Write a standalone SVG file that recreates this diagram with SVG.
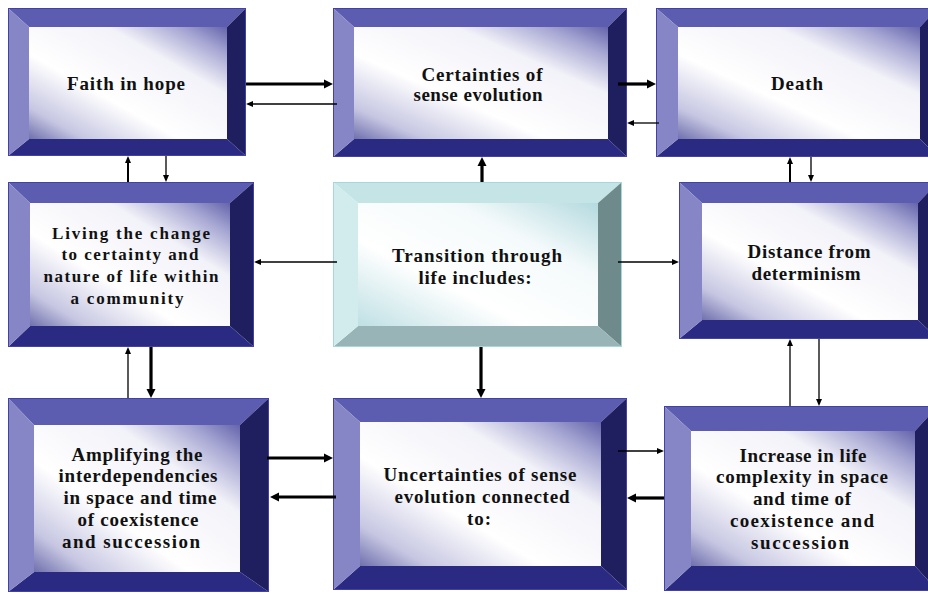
<svg xmlns="http://www.w3.org/2000/svg" width="928" height="594" viewBox="0 0 928 594">
<defs>
<linearGradient id="gp" x1="1" y1="0" x2="0" y2="1">
<stop offset="0" stop-color="#6464ac"/>
<stop offset="0.12" stop-color="#a4a4d2"/>
<stop offset="0.3" stop-color="#f2f2f9"/>
<stop offset="0.62" stop-color="#ffffff"/>
<stop offset="0.86" stop-color="#c6c6e2"/>
<stop offset="1" stop-color="#7070ae"/>
</linearGradient>
<linearGradient id="gt" x1="1" y1="0" x2="0" y2="1">
<stop offset="0" stop-color="#b4dadf"/>
<stop offset="0.3" stop-color="#f4fafb"/>
<stop offset="0.65" stop-color="#ffffff"/>
<stop offset="1" stop-color="#bfe0e4"/>
</linearGradient>
<marker id="hk" markerUnits="userSpaceOnUse" markerWidth="10" markerHeight="10" viewBox="0 0 10 10" refX="0" refY="5" orient="auto" overflow="visible">
<path d="M0,0.5 L9,5 L0,9.5 z" fill="#000"/>
</marker>
<marker id="hn" markerUnits="userSpaceOnUse" markerWidth="8" markerHeight="8" viewBox="0 0 8 8" refX="0" refY="4" orient="auto" overflow="visible">
<path d="M0,1 L7,4 L0,7 z" fill="#000"/>
</marker>
</defs>
<style>
.t{fill:#5c5cb0}.l{fill:#8686c6}.r{fill:#1f1f60}.b{fill:#2a2a82}
.tt{fill:#c4e4e6}.tl{fill:#d2ecee}.tr{fill:#6f8a8a}.tb{fill:#98b4b6}
.ob{fill:none;stroke:#4242a6;stroke-width:1}
.obt{fill:none;stroke:#a8d6da;stroke-width:1}
.in{fill:url(#gp)}.int{fill:url(#gt)}
text{font-family:"Liberation Serif","Times New Roman",serif;font-weight:bold;font-size:19px;fill:#111;text-anchor:middle}
text.s{font-size:17px}
.c line{stroke:#000;fill:none}
.k{stroke-width:3.2;marker-end:url(#hk)}
.n{stroke-width:1.3;marker-end:url(#hn)}
.m{stroke-width:2;marker-end:url(#hn)}
</style>

<g id="faith">
<polygon class="t" points="8,8 246,8 227,27 29,27"/>
<polygon class="r" points="246,8 246,156 227,139 227,27"/>
<polygon class="b" points="8,156 246,156 227,139 29,139"/>
<polygon class="l" points="8,8 29,27 29,139 8,156"/>
<rect class="in" x="29" y="27" width="198" height="112"/>
<rect class="ob" x="8.5" y="8.5" width="237" height="147"/>
<text x="126" y="90" textLength="118" lengthAdjust="spacing">Faith in hope</text>
</g>

<g id="certainties">
<polygon class="t" points="333,8 627,8 608,27 354,27"/>
<polygon class="r" points="627,8 627,157 608,139 608,27"/>
<polygon class="b" points="333,157 627,157 608,139 354,139"/>
<polygon class="l" points="333,8 354,27 354,139 333,157"/>
<rect class="in" x="354" y="27" width="254" height="112"/>
<rect class="ob" x="333.5" y="8.5" width="293" height="148"/>
<text x="482" y="81" textLength="121" lengthAdjust="spacing">Certainties of</text>
<text x="478" y="101" textLength="129" lengthAdjust="spacing">sense evolution</text>
</g>

<g id="death">
<polygon class="t" points="656,8 938,8 920,27 678,27"/>
<polygon class="r" points="938,8 938,157 920,139 920,27"/>
<polygon class="b" points="656,157 938,157 920,139 678,139"/>
<polygon class="l" points="656,8 678,27 678,139 656,157"/>
<rect class="in" x="678" y="27" width="242" height="112"/>
<rect class="ob" x="656.5" y="8.5" width="281" height="148"/>
<text x="797" y="90" textLength="52" lengthAdjust="spacing">Death</text>
</g>

<g id="living">
<polygon class="t" points="8,182 254,182 230,203 30,203"/>
<polygon class="r" points="254,182 254,347 230,326 230,203"/>
<polygon class="b" points="8,347 254,347 230,326 30,326"/>
<polygon class="l" points="8,182 30,203 30,326 8,347"/>
<rect class="in" x="30" y="203" width="200" height="123"/>
<rect class="ob" x="8.5" y="182.5" width="245" height="164"/>
<text class="s" x="131" y="239" textLength="158" lengthAdjust="spacing">Living the change</text>
<text class="s" x="130" y="260" textLength="137" lengthAdjust="spacing">to certainty and</text>
<text class="s" x="131" y="282" textLength="175" lengthAdjust="spacing">nature of life within</text>
<text class="s" x="127" y="304" textLength="113" lengthAdjust="spacing">a community</text>
</g>

<g id="transition">
<polygon class="tt" points="333,182 622,182 598,203 358,203"/>
<polygon class="tr" points="622,182 622,347 598,326 598,203"/>
<polygon class="tb" points="333,347 622,347 598,326 358,326"/>
<polygon class="tl" points="333,182 358,203 358,326 333,347"/>
<rect class="int" x="358" y="203" width="240" height="123"/>
<rect class="obt" x="333.5" y="182.5" width="288" height="164"/>
<text x="477" y="262" textLength="170" lengthAdjust="spacing">Transition through</text>
<text x="475" y="284" textLength="113" lengthAdjust="spacing">life includes:</text>
</g>

<g id="distance">
<polygon class="t" points="679,182 938,182 918,203 702,203"/>
<polygon class="r" points="938,182 938,339 918,320 918,203"/>
<polygon class="b" points="679,339 938,339 918,320 702,320"/>
<polygon class="l" points="679,182 702,203 702,320 679,339"/>
<rect class="in" x="702" y="203" width="216" height="117"/>
<rect class="ob" x="679.5" y="182.5" width="258" height="156"/>
<text x="809" y="258" textLength="123" lengthAdjust="spacing">Distance from</text>
<text x="806" y="280" textLength="109" lengthAdjust="spacing">determinism</text>
</g>

<g id="amplifying">
<polygon class="t" points="8,398 269,398 240,425 34,425"/>
<polygon class="r" points="269,398 269,592 240,572 240,425"/>
<polygon class="b" points="8,592 269,592 240,572 34,572"/>
<polygon class="l" points="8,398 34,425 34,572 8,592"/>
<rect class="in" x="34" y="425" width="206" height="147"/>
<rect class="ob" x="8.5" y="398.5" width="260" height="193"/>
<text x="137" y="461" textLength="131" lengthAdjust="spacing">Amplifying the</text>
<text x="138" y="482" textLength="159" lengthAdjust="spacing">interdependencies</text>
<text x="140" y="504" textLength="153" lengthAdjust="spacing">in space and time</text>
<text x="138" y="526" textLength="121" lengthAdjust="spacing">of coexistence</text>
<text x="131" y="548" textLength="138" lengthAdjust="spacing">and succession</text>
</g>

<g id="uncertainties">
<polygon class="t" points="333,398 627,398 601,422 360,422"/>
<polygon class="r" points="627,398 627,590 601,566 601,422"/>
<polygon class="b" points="333,590 627,590 601,566 360,566"/>
<polygon class="l" points="333,398 360,422 360,566 333,590"/>
<rect class="in" x="360" y="422" width="241" height="144"/>
<rect class="ob" x="333.5" y="398.5" width="293" height="191"/>
<text x="480" y="481" textLength="193" lengthAdjust="spacing">Uncertainties of sense</text>
<text x="482" y="503" textLength="175" lengthAdjust="spacing">evolution connected</text>
<text x="479" y="525" textLength="24" lengthAdjust="spacing">to:</text>
</g>

<g id="increase">
<polygon class="t" points="664,406 938,406 915,431 691,431"/>
<polygon class="r" points="938,406 938,591 915,566 915,431"/>
<polygon class="b" points="664,591 938,591 915,566 691,566"/>
<polygon class="l" points="664,406 691,431 691,566 664,591"/>
<rect class="in" x="691" y="431" width="224" height="135"/>
<rect class="ob" x="664.5" y="406.5" width="273" height="184"/>
<text x="803" y="462" textLength="127" lengthAdjust="spacing">Increase in life</text>
<text x="802" y="483" textLength="172" lengthAdjust="spacing">complexity in space</text>
<text x="802" y="505" textLength="98" lengthAdjust="spacing">and time of</text>
<text x="802" y="527" textLength="144" lengthAdjust="spacing">coexistence and</text>
<text x="800" y="549" textLength="98" lengthAdjust="spacing">succession</text>
</g>

<g id="connectors" class="c">
<line class="k" x1="246" y1="84" x2="324" y2="84"/>
<line class="n" x1="337" y1="104" x2="253" y2="104"/>
<line class="k" x1="618" y1="84" x2="647" y2="84"/>
<line class="n" x1="659" y1="123" x2="634" y2="123"/>
<line class="k" x1="482" y1="182" x2="482" y2="166"/>
<line class="m" x1="128" y1="182" x2="128" y2="163"/>
<line class="n" x1="166" y1="156" x2="166" y2="175"/>
<line class="m" x1="790" y1="182" x2="790" y2="164"/>
<line class="n" x1="811" y1="157" x2="811" y2="175"/>
<line class="n" x1="337" y1="262" x2="261" y2="262"/>
<line class="n" x1="618" y1="262" x2="672" y2="262"/>
<line class="n" x1="128" y1="398" x2="128" y2="354"/>
<line class="k" x1="151" y1="347" x2="151" y2="389"/>
<line class="k" x1="481" y1="347" x2="481" y2="389"/>
<line class="n" x1="790" y1="406" x2="790" y2="346"/>
<line class="n" x1="819" y1="339" x2="819" y2="399"/>
<line class="k" x1="267" y1="458" x2="324" y2="458"/>
<line class="k" x1="336" y1="497" x2="279" y2="497"/>
<line class="n" x1="618" y1="451" x2="657" y2="451"/>
<line class="k" x1="664" y1="498" x2="636" y2="498"/>
</g>
</svg>
